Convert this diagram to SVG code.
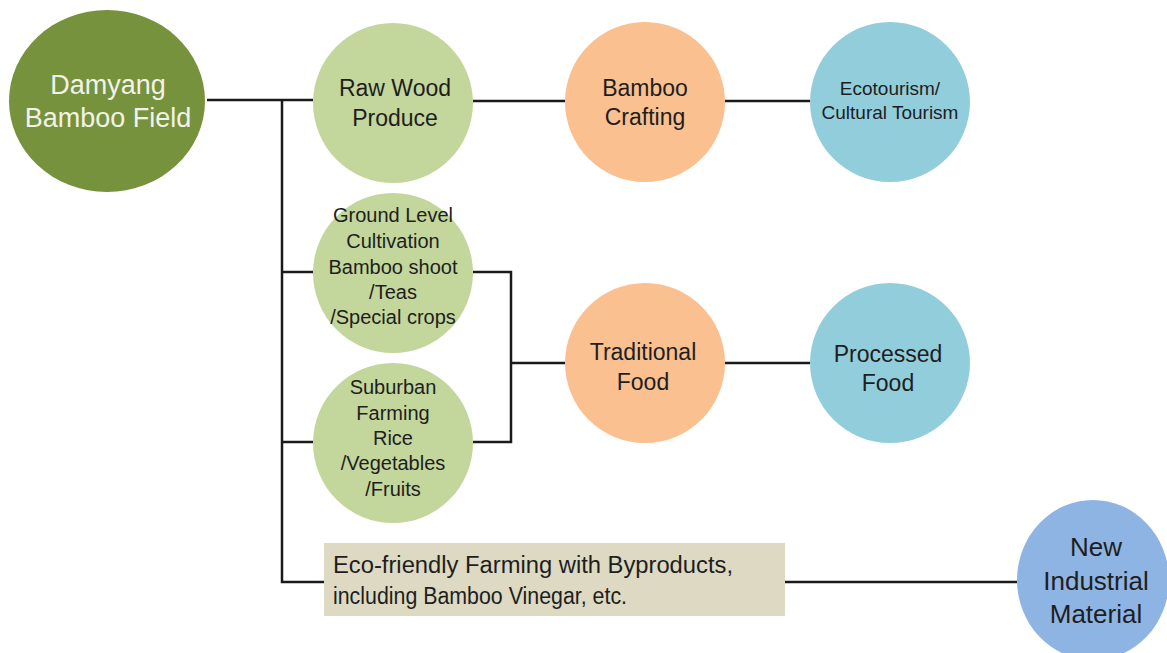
<svg xmlns="http://www.w3.org/2000/svg" width="1167" height="653" viewBox="0 0 1167 653">
  <style>
    .lbl { font-family: "Liberation Sans", Arial, sans-serif; text-anchor: middle; fill: #1e1e1e; }
    .big { font-size: 23px; }
    .mid { font-size: 20px; }
    .sm { font-size: 19px; }
    .wire { fill: none; stroke: #1a1a1a; stroke-width: 2.5; }
  </style>
  <rect width="1167" height="653" fill="#ffffff"/>

  <g id="connectors">
    <path class="wire" d="M207,100 H313"/>
    <path class="wire" d="M282,100 V582 H324"/>
    <path class="wire" d="M282,272 H313"/>
    <path class="wire" d="M282,442 H313"/>
    <path class="wire" d="M473,101 H565"/>
    <path class="wire" d="M725,101 H810"/>
    <path class="wire" d="M473,272 H511 V442 H473"/>
    <path class="wire" d="M511,363 H565"/>
    <path class="wire" d="M725,363 H810"/>
    <path class="wire" d="M785,582 H1017"/>
  </g>

  <g id="damyang">
    <ellipse cx="107" cy="101" rx="98" ry="91" fill="#76923c"/>
    <text class="lbl" font-size="27" style="fill:#f2f2ea"><tspan x="108" y="94">Damyang</tspan><tspan x="108" y="127">Bamboo Field</tspan></text>
  </g>

  <g id="raw-wood">
    <circle cx="393" cy="103" r="80" fill="#c3d69b"/>
    <text class="lbl big"><tspan x="395" y="96">Raw Wood</tspan><tspan x="395" y="126">Produce</tspan></text>
  </g>

  <g id="ground-level">
    <circle cx="393" cy="273" r="80" fill="#c3d69b"/>
    <text class="lbl mid"><tspan x="393" y="222">Ground  Level</tspan><tspan x="393" y="248">Cultivation</tspan><tspan x="393" y="274">Bamboo shoot</tspan><tspan x="393" y="299">/Teas</tspan><tspan x="393" y="324">/Special crops</tspan></text>
  </g>

  <g id="suburban">
    <circle cx="393" cy="443" r="80" fill="#c3d69b"/>
    <text class="lbl mid"><tspan x="393" y="394">Suburban</tspan><tspan x="393" y="420">Farming</tspan><tspan x="393" y="445">Rice</tspan><tspan x="393" y="470">/Vegetables</tspan><tspan x="393" y="496">/Fruits</tspan></text>
  </g>

  <g id="bamboo-crafting">
    <circle cx="645" cy="102" r="80" fill="#fac090"/>
    <text class="lbl big"><tspan x="645" y="96">Bamboo</tspan><tspan x="645" y="125">Crafting</tspan></text>
  </g>

  <g id="ecotourism">
    <circle cx="890" cy="102" r="80" fill="#92cddc"/>
    <text class="lbl sm"><tspan x="890" y="95">Ecotourism/</tspan><tspan x="890" y="119">Cultural Tourism</tspan></text>
  </g>

  <g id="traditional-food">
    <circle cx="645" cy="363" r="80" fill="#fac090"/>
    <text class="lbl big"><tspan x="643" y="360">Traditional</tspan><tspan x="643" y="390">Food</tspan></text>
  </g>

  <g id="processed-food">
    <circle cx="890" cy="363" r="80" fill="#92cddc"/>
    <text class="lbl big"><tspan x="888" y="362">Processed</tspan><tspan x="888" y="391">Food</tspan></text>
  </g>

  <g id="eco-farming">
    <rect x="324" y="543" width="461" height="73" fill="#ddd9c3"/>
    <text class="lbl" font-size="23" style="text-anchor:start" lengthAdjust="spacingAndGlyphs"><tspan x="333" y="573" textLength="400" lengthAdjust="spacingAndGlyphs">Eco-friendly Farming with Byproducts,</tspan><tspan x="333" y="604" textLength="294" lengthAdjust="spacingAndGlyphs">including Bamboo Vinegar, etc.</tspan></text>
  </g>

  <g id="new-material">
    <ellipse cx="1093" cy="580" rx="76" ry="80" fill="#8eb4e3"/>
    <text class="lbl" font-size="26"><tspan x="1096" y="556">New</tspan><tspan x="1096" y="590">Industrial</tspan><tspan x="1096" y="623">Material</tspan></text>
  </g>
</svg>
